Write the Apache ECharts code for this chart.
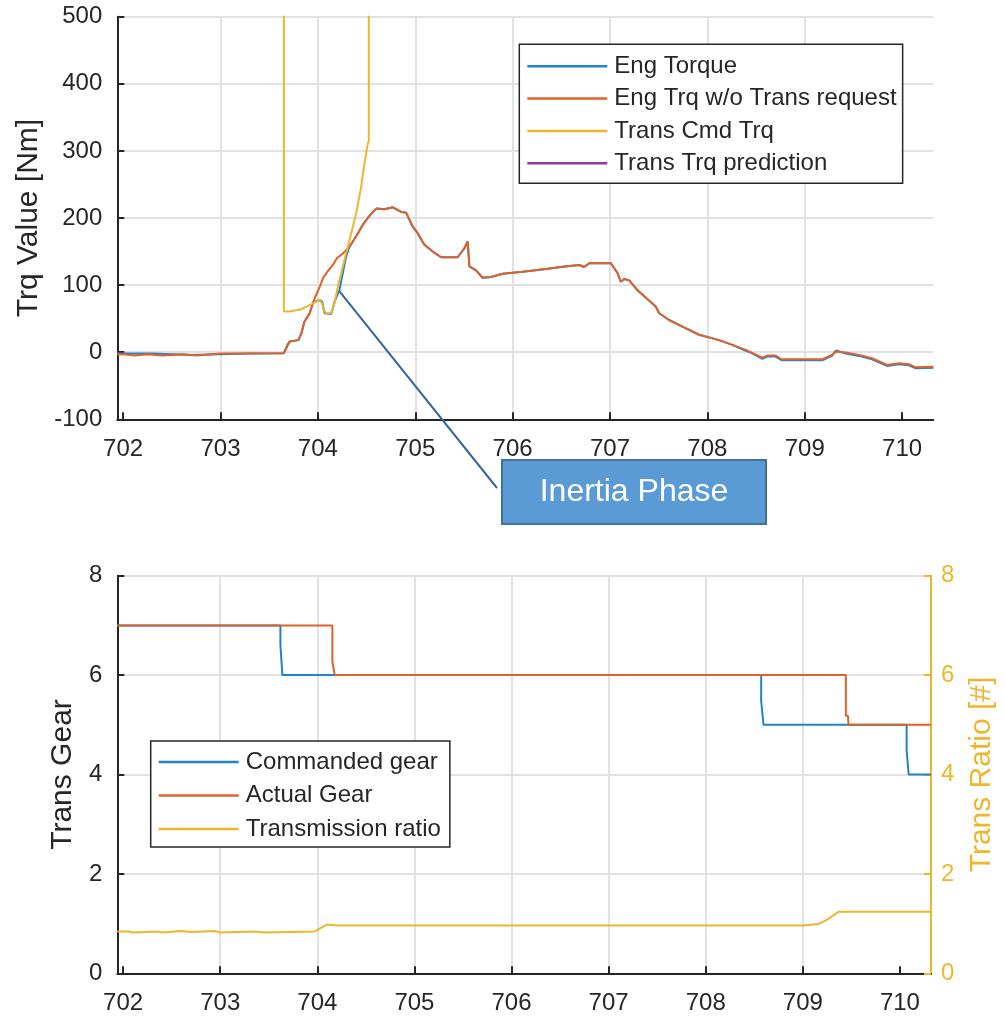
<!DOCTYPE html>
<html>
<head>
<meta charset="utf-8">
<script src="https://cdn.jsdelivr.net/npm/echarts@6/dist/echarts.min.js"></script>
<style>
  html, body { margin: 0; padding: 0; background: #fff; }
  #chart { width: 1005px; height: 1017px; }
</style>
</head>
<body>
<div id="chart"></div>
<script>
// Time window shared by both panels [s]
const T_MIN = 701.94;
const T_MAX = 710.32;
const timeTicks = [702, 703, 704, 705, 706, 707, 708, 709, 710];

// Upper panel: torque signals, [time s, torque Nm]
const engTorque = [
  [701.94, -2], [702.30, -2], [702.31, -4], [702.70, -4], [702.71, -2], [703.30, -2], [703.65, -1.5],
  [703.69, 12], [703.71, 15.8], [703.80, 18], [703.83, 28], [703.86, 45], [703.915, 58], [703.95, 74],
  [704.017, 78], [704.045, 75], [704.069, 58], [704.137, 57], [704.171, 75], [704.222, 93],
  [704.256, 118], [704.29, 142], [704.318, 155], [704.359, 165], [704.41, 177], [704.462, 190],
  [704.513, 200], [704.564, 209], [704.60, 214], [704.684, 213], [704.77, 216], [704.855, 209],
  [704.906, 208], [704.974, 187], [705.026, 177], [705.094, 160], [705.18, 150], [705.266, 141.5],
  [705.436, 141.5], [705.505, 155], [705.538, 165], [705.545, 165], [705.556, 128], [705.624, 122],
  [705.692, 111], [705.778, 112], [705.897, 117], [706.103, 120], [706.342, 124], [706.513, 127.5],
  [706.684, 130], [706.735, 127], [706.787, 132.5], [707.009, 132.5], [707.077, 118], [707.11, 105],
  [707.146, 109], [707.197, 107], [707.266, 95], [707.30, 90], [707.47, 68], [707.505, 58],
  [707.607, 48], [707.744, 38], [707.915, 26], [708.12, 18], [708.256, 11], [708.394, 2],
  [708.45, -1], [708.564, -10], [708.615, -6.5], [708.70, -6.5], [708.763, -12], [709.18, -12],
  [709.28, -5.5], [709.32, 2.5], [709.42, -2], [709.556, -5.5], [709.69, -10.5], [709.846, -20.5],
  [709.966, -18], [710.07, -19.5], [710.14, -24], [710.32, -23]
];
const engTrqNoTransReq = [
  [701.94, -3], [702.00, -3], [702.01, -5], [702.12, -5], [702.13, -3], [702.25, -3], [702.26, -5],
  [702.40, -5], [702.41, -3], [702.62, -3], [702.63, -5], [702.75, -5], [702.76, -3], [703.00, -2],
  [703.30, -2], [703.65, -1.5], [703.71, 15.8], [703.80, 18], [703.83, 28], [703.86, 45],
  [703.915, 58], [703.966, 80], [704.017, 97], [704.058, 112], [704.103, 121], [704.154, 130],
  [704.195, 140], [704.256, 147], [704.308, 155], [704.359, 165], [704.41, 177], [704.462, 190],
  [704.513, 200], [704.564, 209], [704.60, 214], [704.684, 213], [704.77, 216], [704.855, 209],
  [704.906, 208], [704.974, 187], [705.026, 177], [705.094, 160], [705.18, 150], [705.266, 141.5],
  [705.436, 141.5], [705.505, 155], [705.538, 165], [705.545, 165], [705.556, 128], [705.624, 122],
  [705.692, 111], [705.778, 112], [705.897, 117], [706.103, 120], [706.342, 124], [706.513, 127.5],
  [706.684, 130], [706.735, 127], [706.787, 132.5], [707.009, 132.5], [707.077, 118], [707.11, 105],
  [707.146, 109], [707.197, 107], [707.266, 95], [707.30, 90], [707.47, 68], [707.505, 58],
  [707.607, 48], [707.744, 38], [707.915, 26], [708.12, 18], [708.256, 11], [708.394, 3.4],
  [708.564, -8], [708.615, -5], [708.70, -5], [708.763, -10.5], [709.18, -10.5], [709.28, -4],
  [709.32, 1], [709.42, -0.5], [709.556, -4], [709.69, -9], [709.846, -19], [709.966, -16.5],
  [710.07, -18], [710.14, -22.5], [710.32, -21.5]
];
// Command is far above the torque range outside the shift window
const transCmdTrq = [
  [703.651, 900], [703.651, 60.5], [703.71, 60.5], [703.83, 64], [703.897, 69], [703.966, 74],
  [704.017, 78], [704.045, 72], [704.058, 63], [704.086, 58], [704.137, 58], [704.171, 73],
  [704.205, 98], [704.24, 118], [704.29, 147.5], [704.342, 177], [704.393, 207], [704.445, 247],
  [704.479, 282], [704.513, 311], [704.523, 314], [704.523, 900]
];
const transTrqPrediction = [];

// Lower panel: gears and ratio, [time s, value]
const commandedGear = [
  [701.94, 7], [703.62, 7], [703.62, 6.6], [703.635, 6.6], [703.64, 6], [708.571, 6],
  [708.571, 5.48], [708.59, 5.48], [708.595, 5], [710.069, 5], [710.069, 4.48], [710.086, 4.48],
  [710.09, 4], [710.32, 4]
];
const actualGear = [
  [701.94, 7], [704.155, 7], [704.155, 6.27], [704.175, 6.27], [704.18, 6], [709.443, 6],
  [709.443, 5.18], [709.465, 5.18], [709.47, 5], [710.32, 5]
];
const transmissionRatio = [
  [701.94, 0.84], [702.05, 0.84], [702.06, 0.82], [702.10, 0.82], [702.11, 0.84], [702.35, 0.84],
  [702.36, 0.82], [702.40, 0.82], [702.41, 0.85], [702.60, 0.85], [702.61, 0.83], [702.70, 0.83],
  [702.71, 0.85], [702.95, 0.85], [702.96, 0.82], [703.00, 0.82], [703.01, 0.84], [703.35, 0.84],
  [703.36, 0.82], [703.45, 0.82], [703.46, 0.84], [703.97, 0.84], [704.05, 0.93], [704.10, 0.98],
  [704.11, 0.96], [704.20, 0.96], [704.21, 1.0], [704.25, 0.96], [704.35, 0.96], [704.36, 1.0],
  [704.40, 0.96], [704.80, 0.96], [704.81, 1.0], [704.88, 0.96], [705.50, 0.96], [705.51, 1.0],
  [705.56, 0.96], [705.70, 0.96], [705.71, 0.99], [705.75, 0.96], [705.95, 0.96], [705.96, 1.0],
  [706.00, 0.96], [706.75, 0.96], [706.76, 1.0], [706.80, 0.96], [708.65, 0.96], [708.66, 0.99],
  [708.70, 0.96], [709.00, 0.96], [709.01, 0.99], [709.16, 0.99], [709.25, 1.08], [709.37, 1.24],
  [709.78, 1.24], [709.79, 1.21], [709.81, 1.24], [710.32, 1.24]
];

// Point on the torque trace that the callout box refers to
const calloutAnchor = [704.22, 91];
const calloutText = 'Inertia Phase';

const FONT = '"Liberation Sans", Arial, Helvetica, sans-serif';
const INK = '#262626';
const GRIDLINE = '#e2e2e2';
const C_BLUE = '#1f84cc';
const C_ORANGE = '#de6229';
const C_YELLOW = '#eeb62c';
const C_PURPLE = '#8a3d9c';

function timeAxis(gridIndex) {
  return {
    type: 'value', gridIndex, min: T_MIN, max: T_MAX,
    axisLine: { show: true, onZero: false, lineStyle: { color: INK, width: 2 } },
    axisTick: { show: true, inside: true, length: 7, customValues: timeTicks, lineStyle: { color: INK, width: 2 } },
    axisLabel: { customValues: timeTicks, fontSize: 24, color: INK, margin: 18, fontFamily: FONT },
    splitLine: { show: true, showMinLine: false, showMaxLine: false, lineStyle: { color: GRIDLINE, width: 2 } }
  };
}

function valueAxis(gridIndex, min, max, interval, name, nameGap, color, position, split) {
  return {
    type: 'value', gridIndex, min, max, interval, position,
    name, nameLocation: 'middle', nameGap, nameRotate: 90,
    nameTextStyle: { fontSize: 30, color, fontFamily: FONT },
    axisLine: { show: true, onZero: false, lineStyle: { color, width: 2 } },
    axisTick: { show: true, inside: true, length: 7, lineStyle: { color, width: 2 } },
    axisLabel: { fontSize: 24, color, margin: position === 'right' ? 10 : 15, fontFamily: FONT },
    splitLine: { show: split, lineStyle: { color: GRIDLINE, width: 2 } }
  };
}

function trace(name, data, color, xi, yi) {
  return {
    name, type: 'line', data, xAxisIndex: xi, yAxisIndex: yi,
    symbol: 'none', showSymbol: false, clip: true,
    lineStyle: { color, width: 2 }, itemStyle: { color },
    emphasis: { disabled: true }, animation: false
  };
}

function legendBox(names, left, top, padding, itemGap) {
  return {
    data: names, orient: 'vertical', left, top, padding, itemGap,
    icon: 'rect', itemWidth: 80, itemHeight: 2.5, selectedMode: false,
    backgroundColor: '#fff', borderColor: INK, borderWidth: 1.5, borderRadius: 0,
    textStyle: { fontSize: 24, lineHeight: 24, color: INK, fontFamily: FONT, padding: [0, 0, 0, 2] }
  };
}

const chart = echarts.init(document.getElementById('chart'), null, { renderer: 'canvas' });

chart.setOption({
  backgroundColor: '#fff',
  textStyle: { fontFamily: FONT },
  animation: false,
  grid: [
    { left: 117.3, right: 71.7, top: 16.7, height: 402.6, containLabel: false },
    { left: 117.3, right: 71.7, top: 575.7, height: 397.6, containLabel: false }
  ],
  xAxis: [timeAxis(0), timeAxis(1)],
  yAxis: [
    valueAxis(0, -100, 500, 100, 'Trq Value [Nm]', 72, INK, 'left', true),
    valueAxis(1, 0, 8, 2, 'Trans Gear', 37, INK, 'left', true),
    valueAxis(1, 0, 8, 2, 'Trans Ratio [#]', 36, C_YELLOW, 'right', false)
  ],
  legend: [
    legendBox(['Eng Torque', 'Eng Trq w/o Trans request', 'Trans Cmd Trq', 'Trans Trq prediction'],
      519.3, 44.3, [10, 6, 8, 8], 8.3),
    legendBox(['Commanded gear', 'Actual Gear', 'Transmission ratio'],
      150.7, 741, [9, 9, 6, 8], 9.5)
  ],
  series: [
    trace('Eng Torque', engTorque, C_BLUE, 0, 0),
    trace('Eng Trq w/o Trans request', engTrqNoTransReq, C_ORANGE, 0, 0),
    trace('Trans Cmd Trq', transCmdTrq, C_YELLOW, 0, 0),
    trace('Trans Trq prediction', transTrqPrediction, C_PURPLE, 0, 0),
    trace('Commanded gear', commandedGear, C_BLUE, 1, 1),
    trace('Actual Gear', actualGear, C_ORANGE, 1, 1),
    trace('Transmission ratio', transmissionRatio, C_YELLOW, 1, 2)
  ]
});

// Callout: leader line from the trace to a labelled box below the upper panel
const anchorPx = chart.convertToPixel({ xAxisIndex: 0, yAxisIndex: 0 }, calloutAnchor);
const box = { x: 502, y: 460, w: 264, h: 64 };
chart.setOption({
  graphic: [
    {
      type: 'line', z: 100,
      shape: { x1: anchorPx[0], y1: anchorPx[1], x2: box.x - 5, y2: box.y + 28 },
      style: { stroke: '#36679a', lineWidth: 2 }
    },
    {
      type: 'rect', z: 100,
      shape: { x: box.x, y: box.y, width: box.w, height: box.h },
      style: { fill: '#5b9bd5', stroke: '#41719c', lineWidth: 2 }
    },
    {
      type: 'text', z: 101,
      x: box.x + box.w / 2, y: box.y + box.h / 2,
      style: {
        text: calloutText, fill: '#fff', font: '32px ' + FONT,
        align: 'center', verticalAlign: 'middle'
      }
    }
  ]
});
</script>
</body>
</html>
